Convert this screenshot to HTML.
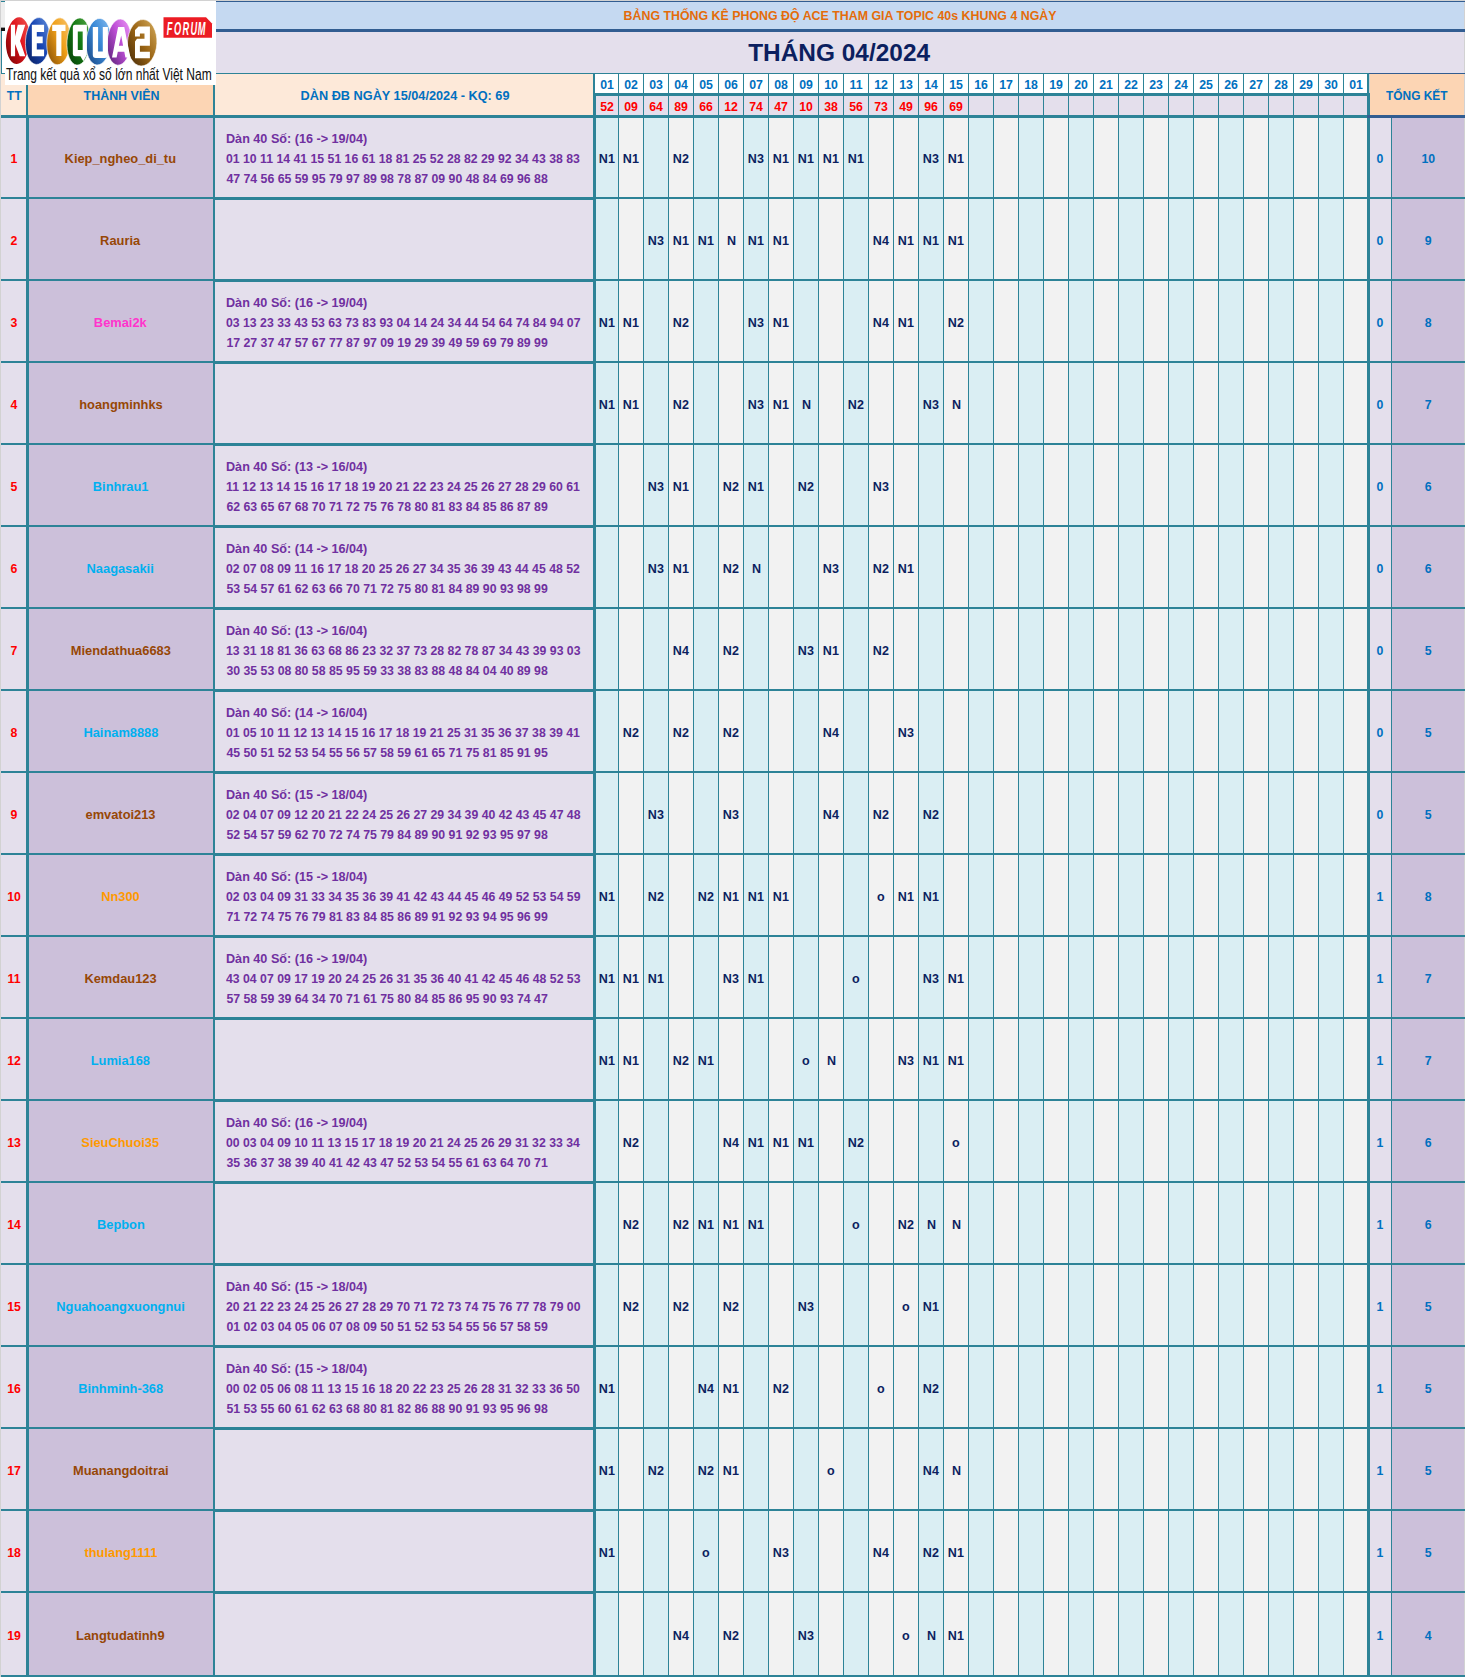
<!DOCTYPE html>
<html><head><meta charset="utf-8">
<style>
html,body{margin:0;padding:0;}
body{width:1465px;height:1677px;position:relative;overflow:hidden;background:#d2d2d2;font-family:"Liberation Sans",sans-serif;}
i{position:absolute;display:block;}
b{position:absolute;display:block;white-space:nowrap;font-weight:bold;}
</style></head><body>
<i style="left:0px;top:0px;width:1465px;height:1677px;background:#d2d2d2"></i>
<i style="left:216px;top:1px;width:1249px;height:1px;background:#325d91"></i>
<i style="left:216px;top:2px;width:1248px;height:27px;background:#c5d9f1"></i>
<i style="left:216px;top:29px;width:1249px;height:3px;background:#325d91"></i>
<i style="left:216px;top:32px;width:1248px;height:41px;background:#e4dfec"></i>
<i style="left:216px;top:73px;width:1153px;height:1px;background:#2d8397"></i>
<i style="left:1369px;top:73px;width:96px;height:1px;background:#325d91"></i>
<i style="left:1px;top:74px;width:25px;height:41px;background:#fde9d9"></i>
<i style="left:26px;top:74px;width:2px;height:41px;background:#2d8397"></i>
<i style="left:28px;top:74px;width:185px;height:41px;background:#fcd5b4"></i>
<i style="left:213px;top:74px;width:2px;height:41px;background:#2d8397"></i>
<i style="left:215px;top:74px;width:378px;height:41px;background:#fde9d9"></i>
<i style="left:593px;top:74px;width:2px;height:19px;background:#2d8397"></i>
<i style="left:593px;top:93px;width:3px;height:22px;background:#2d8397"></i>
<i style="left:595px;top:74px;width:23px;height:19px;background:#ffffff"></i>
<i style="left:596px;top:96px;width:22px;height:19px;background:#e4dfec"></i>
<i style="left:619px;top:74px;width:24px;height:19px;background:#ffffff"></i>
<i style="left:619px;top:96px;width:24px;height:19px;background:#e4dfec"></i>
<i style="left:644px;top:74px;width:24px;height:19px;background:#ffffff"></i>
<i style="left:644px;top:96px;width:24px;height:19px;background:#e4dfec"></i>
<i style="left:669px;top:74px;width:24px;height:19px;background:#ffffff"></i>
<i style="left:669px;top:96px;width:24px;height:19px;background:#e4dfec"></i>
<i style="left:694px;top:74px;width:24px;height:19px;background:#ffffff"></i>
<i style="left:694px;top:96px;width:24px;height:19px;background:#e4dfec"></i>
<i style="left:719px;top:74px;width:24px;height:19px;background:#ffffff"></i>
<i style="left:719px;top:96px;width:24px;height:19px;background:#e4dfec"></i>
<i style="left:744px;top:74px;width:24px;height:19px;background:#ffffff"></i>
<i style="left:744px;top:96px;width:24px;height:19px;background:#e4dfec"></i>
<i style="left:769px;top:74px;width:24px;height:19px;background:#ffffff"></i>
<i style="left:769px;top:96px;width:24px;height:19px;background:#e4dfec"></i>
<i style="left:794px;top:74px;width:24px;height:19px;background:#ffffff"></i>
<i style="left:794px;top:96px;width:24px;height:19px;background:#e4dfec"></i>
<i style="left:819px;top:74px;width:24px;height:19px;background:#ffffff"></i>
<i style="left:819px;top:96px;width:24px;height:19px;background:#e4dfec"></i>
<i style="left:844px;top:74px;width:24px;height:19px;background:#ffffff"></i>
<i style="left:844px;top:96px;width:24px;height:19px;background:#e4dfec"></i>
<i style="left:869px;top:74px;width:24px;height:19px;background:#ffffff"></i>
<i style="left:869px;top:96px;width:24px;height:19px;background:#e4dfec"></i>
<i style="left:894px;top:74px;width:24px;height:19px;background:#ffffff"></i>
<i style="left:894px;top:96px;width:24px;height:19px;background:#e4dfec"></i>
<i style="left:919px;top:74px;width:24px;height:19px;background:#ffffff"></i>
<i style="left:919px;top:96px;width:24px;height:19px;background:#e4dfec"></i>
<i style="left:944px;top:74px;width:24px;height:19px;background:#ffffff"></i>
<i style="left:944px;top:96px;width:24px;height:19px;background:#e4dfec"></i>
<i style="left:969px;top:74px;width:24px;height:19px;background:#ffffff"></i>
<i style="left:969px;top:96px;width:24px;height:19px;background:#e4dfec"></i>
<i style="left:994px;top:74px;width:24px;height:19px;background:#ffffff"></i>
<i style="left:994px;top:96px;width:24px;height:19px;background:#e4dfec"></i>
<i style="left:1019px;top:74px;width:24px;height:19px;background:#ffffff"></i>
<i style="left:1019px;top:96px;width:24px;height:19px;background:#e4dfec"></i>
<i style="left:1044px;top:74px;width:24px;height:19px;background:#ffffff"></i>
<i style="left:1044px;top:96px;width:24px;height:19px;background:#e4dfec"></i>
<i style="left:1069px;top:74px;width:24px;height:19px;background:#ffffff"></i>
<i style="left:1069px;top:96px;width:24px;height:19px;background:#e4dfec"></i>
<i style="left:1094px;top:74px;width:24px;height:19px;background:#ffffff"></i>
<i style="left:1094px;top:96px;width:24px;height:19px;background:#e4dfec"></i>
<i style="left:1119px;top:74px;width:24px;height:19px;background:#ffffff"></i>
<i style="left:1119px;top:96px;width:24px;height:19px;background:#e4dfec"></i>
<i style="left:1144px;top:74px;width:24px;height:19px;background:#ffffff"></i>
<i style="left:1144px;top:96px;width:24px;height:19px;background:#e4dfec"></i>
<i style="left:1169px;top:74px;width:24px;height:19px;background:#ffffff"></i>
<i style="left:1169px;top:96px;width:24px;height:19px;background:#e4dfec"></i>
<i style="left:1194px;top:74px;width:24px;height:19px;background:#ffffff"></i>
<i style="left:1194px;top:96px;width:24px;height:19px;background:#e4dfec"></i>
<i style="left:1219px;top:74px;width:24px;height:19px;background:#ffffff"></i>
<i style="left:1219px;top:96px;width:24px;height:19px;background:#e4dfec"></i>
<i style="left:1244px;top:74px;width:24px;height:19px;background:#ffffff"></i>
<i style="left:1244px;top:96px;width:24px;height:19px;background:#e4dfec"></i>
<i style="left:1269px;top:74px;width:24px;height:19px;background:#ffffff"></i>
<i style="left:1269px;top:96px;width:24px;height:19px;background:#e4dfec"></i>
<i style="left:1294px;top:74px;width:24px;height:19px;background:#ffffff"></i>
<i style="left:1294px;top:96px;width:24px;height:19px;background:#e4dfec"></i>
<i style="left:1319px;top:74px;width:24px;height:19px;background:#ffffff"></i>
<i style="left:1319px;top:96px;width:24px;height:19px;background:#e4dfec"></i>
<i style="left:1344px;top:74px;width:24px;height:19px;background:#ffffff"></i>
<i style="left:1344px;top:96px;width:24px;height:19px;background:#e4dfec"></i>
<i style="left:595px;top:93px;width:774px;height:3px;background:#2d8397"></i>
<i style="left:618px;top:74px;width:1px;height:44px;background:#2d8397"></i>
<i style="left:643px;top:74px;width:1px;height:44px;background:#2d8397"></i>
<i style="left:668px;top:74px;width:1px;height:44px;background:#2d8397"></i>
<i style="left:693px;top:74px;width:1px;height:44px;background:#2d8397"></i>
<i style="left:718px;top:74px;width:1px;height:44px;background:#2d8397"></i>
<i style="left:743px;top:74px;width:1px;height:44px;background:#2d8397"></i>
<i style="left:768px;top:74px;width:1px;height:44px;background:#2d8397"></i>
<i style="left:793px;top:74px;width:1px;height:44px;background:#2d8397"></i>
<i style="left:818px;top:74px;width:1px;height:44px;background:#2d8397"></i>
<i style="left:843px;top:74px;width:1px;height:44px;background:#2d8397"></i>
<i style="left:868px;top:74px;width:1px;height:44px;background:#2d8397"></i>
<i style="left:893px;top:74px;width:1px;height:44px;background:#2d8397"></i>
<i style="left:918px;top:74px;width:1px;height:44px;background:#2d8397"></i>
<i style="left:943px;top:74px;width:1px;height:44px;background:#2d8397"></i>
<i style="left:968px;top:74px;width:1px;height:44px;background:#2d8397"></i>
<i style="left:993px;top:74px;width:1px;height:44px;background:#2d8397"></i>
<i style="left:1018px;top:74px;width:1px;height:44px;background:#2d8397"></i>
<i style="left:1043px;top:74px;width:1px;height:44px;background:#2d8397"></i>
<i style="left:1068px;top:74px;width:1px;height:44px;background:#2d8397"></i>
<i style="left:1093px;top:74px;width:1px;height:44px;background:#2d8397"></i>
<i style="left:1118px;top:74px;width:1px;height:44px;background:#2d8397"></i>
<i style="left:1143px;top:74px;width:1px;height:44px;background:#2d8397"></i>
<i style="left:1168px;top:74px;width:1px;height:44px;background:#2d8397"></i>
<i style="left:1193px;top:74px;width:1px;height:44px;background:#2d8397"></i>
<i style="left:1218px;top:74px;width:1px;height:44px;background:#2d8397"></i>
<i style="left:1243px;top:74px;width:1px;height:44px;background:#2d8397"></i>
<i style="left:1268px;top:74px;width:1px;height:44px;background:#2d8397"></i>
<i style="left:1293px;top:74px;width:1px;height:44px;background:#2d8397"></i>
<i style="left:1318px;top:74px;width:1px;height:44px;background:#2d8397"></i>
<i style="left:1343px;top:74px;width:1px;height:44px;background:#2d8397"></i>
<i style="left:1367px;top:74px;width:2px;height:19px;background:#2d8397"></i>
<i style="left:1367px;top:93px;width:3px;height:22px;background:#2d8397"></i>
<i style="left:1370px;top:74px;width:94px;height:41px;background:#fcd5b4"></i>
<i style="left:1px;top:115px;width:1366px;height:3px;background:#2d8397"></i>
<i style="left:1367px;top:115px;width:98px;height:3px;background:#325d91"></i>
<i style="left:1px;top:118px;width:25px;height:1557px;background:#e4dfec"></i>
<i style="left:26px;top:118px;width:3px;height:1557px;background:#2d8397"></i>
<i style="left:29px;top:118px;width:184px;height:1557px;background:#ccc0da"></i>
<i style="left:213px;top:118px;width:2px;height:1557px;background:#2d8397"></i>
<i style="left:215px;top:118px;width:378px;height:1557px;background:#e4dfec"></i>
<i style="left:593px;top:118px;width:3px;height:1557px;background:#2d8397"></i>
<i style="left:596px;top:118px;width:22px;height:1557px;background:#daeef3"></i>
<i style="left:619px;top:118px;width:24px;height:1557px;background:#f2f2f2"></i>
<i style="left:644px;top:118px;width:24px;height:1557px;background:#daeef3"></i>
<i style="left:669px;top:118px;width:24px;height:1557px;background:#f2f2f2"></i>
<i style="left:694px;top:118px;width:24px;height:1557px;background:#daeef3"></i>
<i style="left:719px;top:118px;width:24px;height:1557px;background:#f2f2f2"></i>
<i style="left:744px;top:118px;width:24px;height:1557px;background:#daeef3"></i>
<i style="left:769px;top:118px;width:24px;height:1557px;background:#f2f2f2"></i>
<i style="left:794px;top:118px;width:24px;height:1557px;background:#daeef3"></i>
<i style="left:819px;top:118px;width:24px;height:1557px;background:#f2f2f2"></i>
<i style="left:844px;top:118px;width:24px;height:1557px;background:#daeef3"></i>
<i style="left:869px;top:118px;width:24px;height:1557px;background:#f2f2f2"></i>
<i style="left:894px;top:118px;width:24px;height:1557px;background:#f2f2f2"></i>
<i style="left:919px;top:118px;width:24px;height:1557px;background:#daeef3"></i>
<i style="left:944px;top:118px;width:24px;height:1557px;background:#f2f2f2"></i>
<i style="left:969px;top:118px;width:24px;height:1557px;background:#daeef3"></i>
<i style="left:994px;top:118px;width:24px;height:1557px;background:#f2f2f2"></i>
<i style="left:1019px;top:118px;width:24px;height:1557px;background:#daeef3"></i>
<i style="left:1044px;top:118px;width:24px;height:1557px;background:#f2f2f2"></i>
<i style="left:1069px;top:118px;width:24px;height:1557px;background:#daeef3"></i>
<i style="left:1094px;top:118px;width:24px;height:1557px;background:#f2f2f2"></i>
<i style="left:1119px;top:118px;width:24px;height:1557px;background:#daeef3"></i>
<i style="left:1144px;top:118px;width:24px;height:1557px;background:#f2f2f2"></i>
<i style="left:1169px;top:118px;width:24px;height:1557px;background:#daeef3"></i>
<i style="left:1194px;top:118px;width:24px;height:1557px;background:#f2f2f2"></i>
<i style="left:1219px;top:118px;width:24px;height:1557px;background:#daeef3"></i>
<i style="left:1244px;top:118px;width:24px;height:1557px;background:#f2f2f2"></i>
<i style="left:1269px;top:118px;width:24px;height:1557px;background:#daeef3"></i>
<i style="left:1294px;top:118px;width:24px;height:1557px;background:#f2f2f2"></i>
<i style="left:1319px;top:118px;width:24px;height:1557px;background:#daeef3"></i>
<i style="left:1344px;top:118px;width:24px;height:1557px;background:#f2f2f2"></i>
<i style="left:618px;top:118px;width:1px;height:1557px;background:#2d8397"></i>
<i style="left:643px;top:118px;width:1px;height:1557px;background:#2d8397"></i>
<i style="left:668px;top:118px;width:1px;height:1557px;background:#2d8397"></i>
<i style="left:693px;top:118px;width:1px;height:1557px;background:#2d8397"></i>
<i style="left:718px;top:118px;width:1px;height:1557px;background:#2d8397"></i>
<i style="left:743px;top:118px;width:1px;height:1557px;background:#2d8397"></i>
<i style="left:768px;top:118px;width:1px;height:1557px;background:#2d8397"></i>
<i style="left:793px;top:118px;width:1px;height:1557px;background:#2d8397"></i>
<i style="left:818px;top:118px;width:1px;height:1557px;background:#2d8397"></i>
<i style="left:843px;top:118px;width:1px;height:1557px;background:#2d8397"></i>
<i style="left:868px;top:118px;width:1px;height:1557px;background:#2d8397"></i>
<i style="left:893px;top:118px;width:1px;height:1557px;background:#2d8397"></i>
<i style="left:918px;top:118px;width:1px;height:1557px;background:#2d8397"></i>
<i style="left:943px;top:118px;width:1px;height:1557px;background:#2d8397"></i>
<i style="left:968px;top:118px;width:1px;height:1557px;background:#2d8397"></i>
<i style="left:993px;top:118px;width:1px;height:1557px;background:#2d8397"></i>
<i style="left:1018px;top:118px;width:1px;height:1557px;background:#2d8397"></i>
<i style="left:1043px;top:118px;width:1px;height:1557px;background:#2d8397"></i>
<i style="left:1068px;top:118px;width:1px;height:1557px;background:#2d8397"></i>
<i style="left:1093px;top:118px;width:1px;height:1557px;background:#2d8397"></i>
<i style="left:1118px;top:118px;width:1px;height:1557px;background:#2d8397"></i>
<i style="left:1143px;top:118px;width:1px;height:1557px;background:#2d8397"></i>
<i style="left:1168px;top:118px;width:1px;height:1557px;background:#2d8397"></i>
<i style="left:1193px;top:118px;width:1px;height:1557px;background:#2d8397"></i>
<i style="left:1218px;top:118px;width:1px;height:1557px;background:#2d8397"></i>
<i style="left:1243px;top:118px;width:1px;height:1557px;background:#2d8397"></i>
<i style="left:1268px;top:118px;width:1px;height:1557px;background:#2d8397"></i>
<i style="left:1293px;top:118px;width:1px;height:1557px;background:#2d8397"></i>
<i style="left:1318px;top:118px;width:1px;height:1557px;background:#2d8397"></i>
<i style="left:1343px;top:118px;width:1px;height:1557px;background:#2d8397"></i>
<i style="left:1367px;top:118px;width:3px;height:1557px;background:#2d8397"></i>
<i style="left:1370px;top:118px;width:21px;height:1557px;background:#e4dfec"></i>
<i style="left:1391px;top:118px;width:1px;height:1557px;background:#2d8397"></i>
<i style="left:1392px;top:118px;width:72px;height:1557px;background:#ccc0da"></i>
<i style="left:1px;top:197px;width:1464px;height:2px;background:#2d8397"></i>
<i style="left:215px;top:199px;width:381px;height:1px;background:#2d8397"></i>
<i style="left:1px;top:279px;width:1464px;height:2px;background:#2d8397"></i>
<i style="left:215px;top:281px;width:381px;height:1px;background:#2d8397"></i>
<i style="left:1px;top:361px;width:1464px;height:2px;background:#2d8397"></i>
<i style="left:215px;top:363px;width:381px;height:1px;background:#2d8397"></i>
<i style="left:1px;top:443px;width:1464px;height:2px;background:#2d8397"></i>
<i style="left:215px;top:445px;width:381px;height:1px;background:#2d8397"></i>
<i style="left:1px;top:525px;width:1464px;height:2px;background:#2d8397"></i>
<i style="left:215px;top:527px;width:381px;height:1px;background:#2d8397"></i>
<i style="left:1px;top:607px;width:1464px;height:2px;background:#2d8397"></i>
<i style="left:215px;top:609px;width:381px;height:1px;background:#2d8397"></i>
<i style="left:1px;top:689px;width:1464px;height:2px;background:#2d8397"></i>
<i style="left:215px;top:691px;width:381px;height:1px;background:#2d8397"></i>
<i style="left:1px;top:771px;width:1464px;height:2px;background:#2d8397"></i>
<i style="left:215px;top:773px;width:381px;height:1px;background:#2d8397"></i>
<i style="left:1px;top:853px;width:1464px;height:2px;background:#2d8397"></i>
<i style="left:215px;top:855px;width:381px;height:1px;background:#2d8397"></i>
<i style="left:1px;top:935px;width:1464px;height:2px;background:#2d8397"></i>
<i style="left:215px;top:937px;width:381px;height:1px;background:#2d8397"></i>
<i style="left:1px;top:1017px;width:1464px;height:2px;background:#2d8397"></i>
<i style="left:215px;top:1019px;width:381px;height:1px;background:#2d8397"></i>
<i style="left:1px;top:1099px;width:1464px;height:2px;background:#2d8397"></i>
<i style="left:215px;top:1101px;width:381px;height:1px;background:#2d8397"></i>
<i style="left:1px;top:1181px;width:1464px;height:2px;background:#2d8397"></i>
<i style="left:215px;top:1183px;width:381px;height:1px;background:#2d8397"></i>
<i style="left:1px;top:1263px;width:1464px;height:2px;background:#2d8397"></i>
<i style="left:215px;top:1265px;width:381px;height:1px;background:#2d8397"></i>
<i style="left:1px;top:1345px;width:1464px;height:2px;background:#2d8397"></i>
<i style="left:215px;top:1347px;width:381px;height:1px;background:#2d8397"></i>
<i style="left:1px;top:1427px;width:1464px;height:2px;background:#2d8397"></i>
<i style="left:215px;top:1429px;width:381px;height:1px;background:#2d8397"></i>
<i style="left:1px;top:1509px;width:1464px;height:2px;background:#2d8397"></i>
<i style="left:215px;top:1511px;width:381px;height:1px;background:#2d8397"></i>
<i style="left:1px;top:1591px;width:1464px;height:2px;background:#2d8397"></i>
<i style="left:215px;top:1593px;width:381px;height:1px;background:#2d8397"></i>
<i style="left:1px;top:1675px;width:1464px;height:2px;background:#2d8397"></i>
<i style="left:1px;top:1px;width:4px;height:1px;background:#2d8397"></i>
<i style="left:1px;top:2px;width:4px;height:25px;background:#eeeeee"></i>
<i style="left:1px;top:27px;width:4px;height:1px;background:#9a9a9a"></i>
<i style="left:1px;top:28px;width:4px;height:3px;background:#111111"></i>
<i style="left:1px;top:31px;width:1px;height:43px;background:#2d8397"></i>
<i style="left:2px;top:31px;width:3px;height:42px;background:#ffffff"></i>
<i style="left:1px;top:73px;width:4px;height:1px;background:#2d8397"></i>
<b style="left:624.46px;top:9.59px;font-size:12.3px;line-height:12.3px;color:#e46c0a;width:432.09px;text-align:center;transform:scaleX(1.0068);transform-origin:center 50%;">BẢNG THỐNG KÊ PHONG ĐỘ ACE THAM GIA TOPIC 40s KHUNG 4 NGÀY</b>
<b style="left:748.38px;top:40.51px;font-size:24.2px;line-height:24.2px;color:#0c1f5f;width:182.24px;text-align:center;transform:scaleX(1.0098);transform-origin:center 50%;">THÁNG 04/2024</b>
<b style="left:5.69px;top:89.59px;font-size:12.3px;line-height:12.3px;color:#0070c0;width:17.03px;text-align:center;">TT</b>
<b style="left:82.61px;top:89.59px;font-size:12.3px;line-height:12.3px;color:#0070c0;width:77.17px;text-align:center;transform:scaleX(1.0110);transform-origin:center 50%;">THÀNH VIÊN</b>
<b style="left:303.34px;top:89.59px;font-size:12.3px;line-height:12.3px;color:#0070c0;width:204.12px;text-align:center;transform:scaleX(1.0340);transform-origin:center 50%;">DÀN ĐB NGÀY 15/04/2024 - KQ: 69</b>
<b style="left:1384.23px;top:89.59px;font-size:12.3px;line-height:12.3px;color:#0070c0;width:65.55px;text-align:center;transform:scaleX(0.9678);transform-origin:center 50%;">TỔNG KẾT</b>
<b style="left:599.16px;top:78.59px;font-size:12.3px;line-height:12.3px;color:#0070c0;width:15.68px;text-align:center;">01</b>
<b style="left:623.16px;top:78.59px;font-size:12.3px;line-height:12.3px;color:#0070c0;width:15.68px;text-align:center;">02</b>
<b style="left:648.16px;top:78.59px;font-size:12.3px;line-height:12.3px;color:#0070c0;width:15.68px;text-align:center;">03</b>
<b style="left:673.16px;top:78.59px;font-size:12.3px;line-height:12.3px;color:#0070c0;width:15.68px;text-align:center;">04</b>
<b style="left:698.16px;top:78.59px;font-size:12.3px;line-height:12.3px;color:#0070c0;width:15.68px;text-align:center;">05</b>
<b style="left:723.16px;top:78.59px;font-size:12.3px;line-height:12.3px;color:#0070c0;width:15.68px;text-align:center;">06</b>
<b style="left:748.16px;top:78.59px;font-size:12.3px;line-height:12.3px;color:#0070c0;width:15.68px;text-align:center;">07</b>
<b style="left:773.16px;top:78.59px;font-size:12.3px;line-height:12.3px;color:#0070c0;width:15.68px;text-align:center;">08</b>
<b style="left:798.16px;top:78.59px;font-size:12.3px;line-height:12.3px;color:#0070c0;width:15.68px;text-align:center;">09</b>
<b style="left:823.16px;top:78.59px;font-size:12.3px;line-height:12.3px;color:#0070c0;width:15.68px;text-align:center;">10</b>
<b style="left:848.50px;top:78.59px;font-size:12.3px;line-height:12.3px;color:#0070c0;width:15.00px;text-align:center;">11</b>
<b style="left:873.16px;top:78.59px;font-size:12.3px;line-height:12.3px;color:#0070c0;width:15.68px;text-align:center;">12</b>
<b style="left:898.16px;top:78.59px;font-size:12.3px;line-height:12.3px;color:#0070c0;width:15.68px;text-align:center;">13</b>
<b style="left:923.16px;top:78.59px;font-size:12.3px;line-height:12.3px;color:#0070c0;width:15.68px;text-align:center;">14</b>
<b style="left:948.16px;top:78.59px;font-size:12.3px;line-height:12.3px;color:#0070c0;width:15.68px;text-align:center;">15</b>
<b style="left:973.16px;top:78.59px;font-size:12.3px;line-height:12.3px;color:#0070c0;width:15.68px;text-align:center;">16</b>
<b style="left:998.16px;top:78.59px;font-size:12.3px;line-height:12.3px;color:#0070c0;width:15.68px;text-align:center;">17</b>
<b style="left:1023.16px;top:78.59px;font-size:12.3px;line-height:12.3px;color:#0070c0;width:15.68px;text-align:center;">18</b>
<b style="left:1048.16px;top:78.59px;font-size:12.3px;line-height:12.3px;color:#0070c0;width:15.68px;text-align:center;">19</b>
<b style="left:1073.16px;top:78.59px;font-size:12.3px;line-height:12.3px;color:#0070c0;width:15.68px;text-align:center;">20</b>
<b style="left:1098.16px;top:78.59px;font-size:12.3px;line-height:12.3px;color:#0070c0;width:15.68px;text-align:center;">21</b>
<b style="left:1123.16px;top:78.59px;font-size:12.3px;line-height:12.3px;color:#0070c0;width:15.68px;text-align:center;">22</b>
<b style="left:1148.16px;top:78.59px;font-size:12.3px;line-height:12.3px;color:#0070c0;width:15.68px;text-align:center;">23</b>
<b style="left:1173.16px;top:78.59px;font-size:12.3px;line-height:12.3px;color:#0070c0;width:15.68px;text-align:center;">24</b>
<b style="left:1198.16px;top:78.59px;font-size:12.3px;line-height:12.3px;color:#0070c0;width:15.68px;text-align:center;">25</b>
<b style="left:1223.16px;top:78.59px;font-size:12.3px;line-height:12.3px;color:#0070c0;width:15.68px;text-align:center;">26</b>
<b style="left:1248.16px;top:78.59px;font-size:12.3px;line-height:12.3px;color:#0070c0;width:15.68px;text-align:center;">27</b>
<b style="left:1273.16px;top:78.59px;font-size:12.3px;line-height:12.3px;color:#0070c0;width:15.68px;text-align:center;">28</b>
<b style="left:1298.16px;top:78.59px;font-size:12.3px;line-height:12.3px;color:#0070c0;width:15.68px;text-align:center;">29</b>
<b style="left:1323.16px;top:78.59px;font-size:12.3px;line-height:12.3px;color:#0070c0;width:15.68px;text-align:center;">30</b>
<b style="left:1348.16px;top:78.59px;font-size:12.3px;line-height:12.3px;color:#0070c0;width:15.68px;text-align:center;">01</b>
<b style="left:599.16px;top:100.59px;font-size:12.3px;line-height:12.3px;color:#ff0000;width:15.68px;text-align:center;">52</b>
<b style="left:623.16px;top:100.59px;font-size:12.3px;line-height:12.3px;color:#ff0000;width:15.68px;text-align:center;">09</b>
<b style="left:648.16px;top:100.59px;font-size:12.3px;line-height:12.3px;color:#ff0000;width:15.68px;text-align:center;">64</b>
<b style="left:673.16px;top:100.59px;font-size:12.3px;line-height:12.3px;color:#ff0000;width:15.68px;text-align:center;">89</b>
<b style="left:698.16px;top:100.59px;font-size:12.3px;line-height:12.3px;color:#ff0000;width:15.68px;text-align:center;">66</b>
<b style="left:723.16px;top:100.59px;font-size:12.3px;line-height:12.3px;color:#ff0000;width:15.68px;text-align:center;">12</b>
<b style="left:748.16px;top:100.59px;font-size:12.3px;line-height:12.3px;color:#ff0000;width:15.68px;text-align:center;">74</b>
<b style="left:773.16px;top:100.59px;font-size:12.3px;line-height:12.3px;color:#ff0000;width:15.68px;text-align:center;">47</b>
<b style="left:798.16px;top:100.59px;font-size:12.3px;line-height:12.3px;color:#ff0000;width:15.68px;text-align:center;">10</b>
<b style="left:823.16px;top:100.59px;font-size:12.3px;line-height:12.3px;color:#ff0000;width:15.68px;text-align:center;">38</b>
<b style="left:848.16px;top:100.59px;font-size:12.3px;line-height:12.3px;color:#ff0000;width:15.68px;text-align:center;">56</b>
<b style="left:873.16px;top:100.59px;font-size:12.3px;line-height:12.3px;color:#ff0000;width:15.68px;text-align:center;">73</b>
<b style="left:898.16px;top:100.59px;font-size:12.3px;line-height:12.3px;color:#ff0000;width:15.68px;text-align:center;">49</b>
<b style="left:923.16px;top:100.59px;font-size:12.3px;line-height:12.3px;color:#ff0000;width:15.68px;text-align:center;">96</b>
<b style="left:948.16px;top:100.59px;font-size:12.3px;line-height:12.3px;color:#ff0000;width:15.68px;text-align:center;">69</b>
<b style="left:9.58px;top:152.59px;font-size:12.3px;line-height:12.3px;color:#ff0000;width:8.84px;text-align:center;">1</b>
<b style="left:66.19px;top:152.59px;font-size:12.3px;line-height:12.3px;color:#974706;width:108.61px;text-align:center;transform:scaleX(1.0450);transform-origin:center 50%;">Kiep_ngheo_di_tu</b>
<b style="left:226.40px;top:132.59px;font-size:12.3px;line-height:12.3px;color:#7030a0;width:139.75px;transform:scaleX(1.0260);transform-origin:left 50%;">Dàn 40 Số: (16 -&gt; 19/04)</b>
<b style="left:226.40px;top:152.59px;font-size:12.3px;line-height:12.3px;color:#7030a0;width:356.98px;transform:scaleX(0.9970);transform-origin:left 50%;">01 10 11 14 41 15 51 16 61 18 81 25 52 28 82 29 92 34 43 38 83</b>
<b style="left:226.40px;top:172.59px;font-size:12.3px;line-height:12.3px;color:#7030a0;width:323.46px;">47 74 56 65 59 95 79 97 89 98 78 87 09 90 48 84 69 96 88</b>
<b style="left:598.14px;top:152.59px;font-size:12.3px;line-height:12.3px;color:#0c1f5f;width:17.72px;text-align:center;transform:scaleX(1.0200);transform-origin:center 50%;">N1</b>
<b style="left:622.14px;top:152.59px;font-size:12.3px;line-height:12.3px;color:#0c1f5f;width:17.72px;text-align:center;transform:scaleX(1.0200);transform-origin:center 50%;">N1</b>
<b style="left:672.14px;top:152.59px;font-size:12.3px;line-height:12.3px;color:#0c1f5f;width:17.72px;text-align:center;transform:scaleX(1.0200);transform-origin:center 50%;">N2</b>
<b style="left:747.14px;top:152.59px;font-size:12.3px;line-height:12.3px;color:#0c1f5f;width:17.72px;text-align:center;transform:scaleX(1.0200);transform-origin:center 50%;">N3</b>
<b style="left:772.14px;top:152.59px;font-size:12.3px;line-height:12.3px;color:#0c1f5f;width:17.72px;text-align:center;transform:scaleX(1.0200);transform-origin:center 50%;">N1</b>
<b style="left:797.14px;top:152.59px;font-size:12.3px;line-height:12.3px;color:#0c1f5f;width:17.72px;text-align:center;transform:scaleX(1.0200);transform-origin:center 50%;">N1</b>
<b style="left:822.14px;top:152.59px;font-size:12.3px;line-height:12.3px;color:#0c1f5f;width:17.72px;text-align:center;transform:scaleX(1.0200);transform-origin:center 50%;">N1</b>
<b style="left:847.14px;top:152.59px;font-size:12.3px;line-height:12.3px;color:#0c1f5f;width:17.72px;text-align:center;transform:scaleX(1.0200);transform-origin:center 50%;">N1</b>
<b style="left:922.14px;top:152.59px;font-size:12.3px;line-height:12.3px;color:#0c1f5f;width:17.72px;text-align:center;transform:scaleX(1.0200);transform-origin:center 50%;">N3</b>
<b style="left:947.14px;top:152.59px;font-size:12.3px;line-height:12.3px;color:#0c1f5f;width:17.72px;text-align:center;transform:scaleX(1.0200);transform-origin:center 50%;">N1</b>
<b style="left:1375.58px;top:152.59px;font-size:12.3px;line-height:12.3px;color:#0070c0;width:8.84px;text-align:center;">0</b>
<b style="left:1420.46px;top:152.59px;font-size:12.3px;line-height:12.3px;color:#0070c0;width:15.68px;text-align:center;">10</b>
<b style="left:9.58px;top:234.59px;font-size:12.3px;line-height:12.3px;color:#ff0000;width:8.84px;text-align:center;">2</b>
<b style="left:100.36px;top:234.59px;font-size:12.3px;line-height:12.3px;color:#974706;width:40.28px;text-align:center;transform:scaleX(1.0450);transform-origin:center 50%;">Rauria</b>
<b style="left:647.14px;top:234.59px;font-size:12.3px;line-height:12.3px;color:#0c1f5f;width:17.72px;text-align:center;transform:scaleX(1.0200);transform-origin:center 50%;">N3</b>
<b style="left:672.14px;top:234.59px;font-size:12.3px;line-height:12.3px;color:#0c1f5f;width:17.72px;text-align:center;transform:scaleX(1.0200);transform-origin:center 50%;">N1</b>
<b style="left:697.14px;top:234.59px;font-size:12.3px;line-height:12.3px;color:#0c1f5f;width:17.72px;text-align:center;transform:scaleX(1.0200);transform-origin:center 50%;">N1</b>
<b style="left:725.56px;top:234.59px;font-size:12.3px;line-height:12.3px;color:#0c1f5f;width:10.88px;text-align:center;transform:scaleX(1.0200);transform-origin:center 50%;">N</b>
<b style="left:747.14px;top:234.59px;font-size:12.3px;line-height:12.3px;color:#0c1f5f;width:17.72px;text-align:center;transform:scaleX(1.0200);transform-origin:center 50%;">N1</b>
<b style="left:772.14px;top:234.59px;font-size:12.3px;line-height:12.3px;color:#0c1f5f;width:17.72px;text-align:center;transform:scaleX(1.0200);transform-origin:center 50%;">N1</b>
<b style="left:872.14px;top:234.59px;font-size:12.3px;line-height:12.3px;color:#0c1f5f;width:17.72px;text-align:center;transform:scaleX(1.0200);transform-origin:center 50%;">N4</b>
<b style="left:897.14px;top:234.59px;font-size:12.3px;line-height:12.3px;color:#0c1f5f;width:17.72px;text-align:center;transform:scaleX(1.0200);transform-origin:center 50%;">N1</b>
<b style="left:922.14px;top:234.59px;font-size:12.3px;line-height:12.3px;color:#0c1f5f;width:17.72px;text-align:center;transform:scaleX(1.0200);transform-origin:center 50%;">N1</b>
<b style="left:947.14px;top:234.59px;font-size:12.3px;line-height:12.3px;color:#0c1f5f;width:17.72px;text-align:center;transform:scaleX(1.0200);transform-origin:center 50%;">N1</b>
<b style="left:1375.58px;top:234.59px;font-size:12.3px;line-height:12.3px;color:#0070c0;width:8.84px;text-align:center;">0</b>
<b style="left:1423.88px;top:234.59px;font-size:12.3px;line-height:12.3px;color:#0070c0;width:8.84px;text-align:center;">9</b>
<b style="left:9.58px;top:316.59px;font-size:12.3px;line-height:12.3px;color:#ff0000;width:8.84px;text-align:center;">3</b>
<b style="left:94.20px;top:316.59px;font-size:12.3px;line-height:12.3px;color:#ff33cc;width:52.60px;text-align:center;transform:scaleX(1.0450);transform-origin:center 50%;">Bemai2k</b>
<b style="left:226.40px;top:296.59px;font-size:12.3px;line-height:12.3px;color:#7030a0;width:139.75px;transform:scaleX(1.0260);transform-origin:left 50%;">Dàn 40 Số: (16 -&gt; 19/04)</b>
<b style="left:226.40px;top:316.59px;font-size:12.3px;line-height:12.3px;color:#7030a0;width:357.66px;transform:scaleX(0.9970);transform-origin:left 50%;">03 13 23 33 43 53 63 73 83 93 04 14 24 34 44 54 64 74 84 94 07</b>
<b style="left:226.40px;top:336.59px;font-size:12.3px;line-height:12.3px;color:#7030a0;width:323.46px;">17 27 37 47 57 67 77 87 97 09 19 29 39 49 59 69 79 89 99</b>
<b style="left:598.14px;top:316.59px;font-size:12.3px;line-height:12.3px;color:#0c1f5f;width:17.72px;text-align:center;transform:scaleX(1.0200);transform-origin:center 50%;">N1</b>
<b style="left:622.14px;top:316.59px;font-size:12.3px;line-height:12.3px;color:#0c1f5f;width:17.72px;text-align:center;transform:scaleX(1.0200);transform-origin:center 50%;">N1</b>
<b style="left:672.14px;top:316.59px;font-size:12.3px;line-height:12.3px;color:#0c1f5f;width:17.72px;text-align:center;transform:scaleX(1.0200);transform-origin:center 50%;">N2</b>
<b style="left:747.14px;top:316.59px;font-size:12.3px;line-height:12.3px;color:#0c1f5f;width:17.72px;text-align:center;transform:scaleX(1.0200);transform-origin:center 50%;">N3</b>
<b style="left:772.14px;top:316.59px;font-size:12.3px;line-height:12.3px;color:#0c1f5f;width:17.72px;text-align:center;transform:scaleX(1.0200);transform-origin:center 50%;">N1</b>
<b style="left:872.14px;top:316.59px;font-size:12.3px;line-height:12.3px;color:#0c1f5f;width:17.72px;text-align:center;transform:scaleX(1.0200);transform-origin:center 50%;">N4</b>
<b style="left:897.14px;top:316.59px;font-size:12.3px;line-height:12.3px;color:#0c1f5f;width:17.72px;text-align:center;transform:scaleX(1.0200);transform-origin:center 50%;">N1</b>
<b style="left:947.14px;top:316.59px;font-size:12.3px;line-height:12.3px;color:#0c1f5f;width:17.72px;text-align:center;transform:scaleX(1.0200);transform-origin:center 50%;">N2</b>
<b style="left:1375.58px;top:316.59px;font-size:12.3px;line-height:12.3px;color:#0070c0;width:8.84px;text-align:center;">0</b>
<b style="left:1423.88px;top:316.59px;font-size:12.3px;line-height:12.3px;color:#0070c0;width:8.84px;text-align:center;">8</b>
<b style="left:9.58px;top:398.59px;font-size:12.3px;line-height:12.3px;color:#ff0000;width:8.84px;text-align:center;">4</b>
<b style="left:79.52px;top:398.59px;font-size:12.3px;line-height:12.3px;color:#974706;width:81.96px;text-align:center;transform:scaleX(1.0450);transform-origin:center 50%;">hoangminhks</b>
<b style="left:598.14px;top:398.59px;font-size:12.3px;line-height:12.3px;color:#0c1f5f;width:17.72px;text-align:center;transform:scaleX(1.0200);transform-origin:center 50%;">N1</b>
<b style="left:622.14px;top:398.59px;font-size:12.3px;line-height:12.3px;color:#0c1f5f;width:17.72px;text-align:center;transform:scaleX(1.0200);transform-origin:center 50%;">N1</b>
<b style="left:672.14px;top:398.59px;font-size:12.3px;line-height:12.3px;color:#0c1f5f;width:17.72px;text-align:center;transform:scaleX(1.0200);transform-origin:center 50%;">N2</b>
<b style="left:747.14px;top:398.59px;font-size:12.3px;line-height:12.3px;color:#0c1f5f;width:17.72px;text-align:center;transform:scaleX(1.0200);transform-origin:center 50%;">N3</b>
<b style="left:772.14px;top:398.59px;font-size:12.3px;line-height:12.3px;color:#0c1f5f;width:17.72px;text-align:center;transform:scaleX(1.0200);transform-origin:center 50%;">N1</b>
<b style="left:800.56px;top:398.59px;font-size:12.3px;line-height:12.3px;color:#0c1f5f;width:10.88px;text-align:center;transform:scaleX(1.0200);transform-origin:center 50%;">N</b>
<b style="left:847.14px;top:398.59px;font-size:12.3px;line-height:12.3px;color:#0c1f5f;width:17.72px;text-align:center;transform:scaleX(1.0200);transform-origin:center 50%;">N2</b>
<b style="left:922.14px;top:398.59px;font-size:12.3px;line-height:12.3px;color:#0c1f5f;width:17.72px;text-align:center;transform:scaleX(1.0200);transform-origin:center 50%;">N3</b>
<b style="left:950.56px;top:398.59px;font-size:12.3px;line-height:12.3px;color:#0c1f5f;width:10.88px;text-align:center;transform:scaleX(1.0200);transform-origin:center 50%;">N</b>
<b style="left:1375.58px;top:398.59px;font-size:12.3px;line-height:12.3px;color:#0070c0;width:8.84px;text-align:center;">0</b>
<b style="left:1423.88px;top:398.59px;font-size:12.3px;line-height:12.3px;color:#0070c0;width:8.84px;text-align:center;">7</b>
<b style="left:9.58px;top:480.59px;font-size:12.3px;line-height:12.3px;color:#ff0000;width:8.84px;text-align:center;">5</b>
<b style="left:92.85px;top:480.59px;font-size:12.3px;line-height:12.3px;color:#00b0f0;width:55.31px;text-align:center;transform:scaleX(1.0450);transform-origin:center 50%;">Binhrau1</b>
<b style="left:226.40px;top:460.59px;font-size:12.3px;line-height:12.3px;color:#7030a0;width:139.75px;transform:scaleX(1.0260);transform-origin:left 50%;">Dàn 40 Số: (13 -&gt; 16/04)</b>
<b style="left:226.40px;top:480.59px;font-size:12.3px;line-height:12.3px;color:#7030a0;width:356.98px;transform:scaleX(0.9970);transform-origin:left 50%;">11 12 13 14 15 16 17 18 19 20 21 22 23 24 25 26 27 28 29 60 61</b>
<b style="left:226.40px;top:500.59px;font-size:12.3px;line-height:12.3px;color:#7030a0;width:323.46px;">62 63 65 67 68 70 71 72 75 76 78 80 81 83 84 85 86 87 89</b>
<b style="left:647.14px;top:480.59px;font-size:12.3px;line-height:12.3px;color:#0c1f5f;width:17.72px;text-align:center;transform:scaleX(1.0200);transform-origin:center 50%;">N3</b>
<b style="left:672.14px;top:480.59px;font-size:12.3px;line-height:12.3px;color:#0c1f5f;width:17.72px;text-align:center;transform:scaleX(1.0200);transform-origin:center 50%;">N1</b>
<b style="left:722.14px;top:480.59px;font-size:12.3px;line-height:12.3px;color:#0c1f5f;width:17.72px;text-align:center;transform:scaleX(1.0200);transform-origin:center 50%;">N2</b>
<b style="left:747.14px;top:480.59px;font-size:12.3px;line-height:12.3px;color:#0c1f5f;width:17.72px;text-align:center;transform:scaleX(1.0200);transform-origin:center 50%;">N1</b>
<b style="left:797.14px;top:480.59px;font-size:12.3px;line-height:12.3px;color:#0c1f5f;width:17.72px;text-align:center;transform:scaleX(1.0200);transform-origin:center 50%;">N2</b>
<b style="left:872.14px;top:480.59px;font-size:12.3px;line-height:12.3px;color:#0c1f5f;width:17.72px;text-align:center;transform:scaleX(1.0200);transform-origin:center 50%;">N3</b>
<b style="left:1375.58px;top:480.59px;font-size:12.3px;line-height:12.3px;color:#0070c0;width:8.84px;text-align:center;">0</b>
<b style="left:1423.88px;top:480.59px;font-size:12.3px;line-height:12.3px;color:#0070c0;width:8.84px;text-align:center;">6</b>
<b style="left:9.58px;top:562.59px;font-size:12.3px;line-height:12.3px;color:#ff0000;width:8.84px;text-align:center;">6</b>
<b style="left:87.36px;top:562.59px;font-size:12.3px;line-height:12.3px;color:#00b0f0;width:66.28px;text-align:center;transform:scaleX(1.0450);transform-origin:center 50%;">Naagasakii</b>
<b style="left:226.40px;top:542.59px;font-size:12.3px;line-height:12.3px;color:#7030a0;width:139.75px;transform:scaleX(1.0260);transform-origin:left 50%;">Dàn 40 Số: (14 -&gt; 16/04)</b>
<b style="left:226.40px;top:562.59px;font-size:12.3px;line-height:12.3px;color:#7030a0;width:356.98px;transform:scaleX(0.9970);transform-origin:left 50%;">02 07 08 09 11 16 17 18 20 25 26 27 34 35 36 39 43 44 45 48 52</b>
<b style="left:226.40px;top:582.59px;font-size:12.3px;line-height:12.3px;color:#7030a0;width:323.46px;">53 54 57 61 62 63 66 70 71 72 75 80 81 84 89 90 93 98 99</b>
<b style="left:647.14px;top:562.59px;font-size:12.3px;line-height:12.3px;color:#0c1f5f;width:17.72px;text-align:center;transform:scaleX(1.0200);transform-origin:center 50%;">N3</b>
<b style="left:672.14px;top:562.59px;font-size:12.3px;line-height:12.3px;color:#0c1f5f;width:17.72px;text-align:center;transform:scaleX(1.0200);transform-origin:center 50%;">N1</b>
<b style="left:722.14px;top:562.59px;font-size:12.3px;line-height:12.3px;color:#0c1f5f;width:17.72px;text-align:center;transform:scaleX(1.0200);transform-origin:center 50%;">N2</b>
<b style="left:750.56px;top:562.59px;font-size:12.3px;line-height:12.3px;color:#0c1f5f;width:10.88px;text-align:center;transform:scaleX(1.0200);transform-origin:center 50%;">N</b>
<b style="left:822.14px;top:562.59px;font-size:12.3px;line-height:12.3px;color:#0c1f5f;width:17.72px;text-align:center;transform:scaleX(1.0200);transform-origin:center 50%;">N3</b>
<b style="left:872.14px;top:562.59px;font-size:12.3px;line-height:12.3px;color:#0c1f5f;width:17.72px;text-align:center;transform:scaleX(1.0200);transform-origin:center 50%;">N2</b>
<b style="left:897.14px;top:562.59px;font-size:12.3px;line-height:12.3px;color:#0c1f5f;width:17.72px;text-align:center;transform:scaleX(1.0200);transform-origin:center 50%;">N1</b>
<b style="left:1375.58px;top:562.59px;font-size:12.3px;line-height:12.3px;color:#0070c0;width:8.84px;text-align:center;">0</b>
<b style="left:1423.88px;top:562.59px;font-size:12.3px;line-height:12.3px;color:#0070c0;width:8.84px;text-align:center;">6</b>
<b style="left:9.58px;top:644.59px;font-size:12.3px;line-height:12.3px;color:#ff0000;width:8.84px;text-align:center;">7</b>
<b style="left:71.65px;top:644.59px;font-size:12.3px;line-height:12.3px;color:#974706;width:97.70px;text-align:center;transform:scaleX(1.0450);transform-origin:center 50%;">Miendathua6683</b>
<b style="left:226.40px;top:624.59px;font-size:12.3px;line-height:12.3px;color:#7030a0;width:139.75px;transform:scaleX(1.0260);transform-origin:left 50%;">Dàn 40 Số: (13 -&gt; 16/04)</b>
<b style="left:226.40px;top:644.59px;font-size:12.3px;line-height:12.3px;color:#7030a0;width:357.66px;transform:scaleX(0.9970);transform-origin:left 50%;">13 31 18 81 36 63 68 86 23 32 37 73 28 82 78 87 34 43 39 93 03</b>
<b style="left:226.40px;top:664.59px;font-size:12.3px;line-height:12.3px;color:#7030a0;width:323.46px;">30 35 53 08 80 58 85 95 59 33 38 83 88 48 84 04 40 89 98</b>
<b style="left:672.14px;top:644.59px;font-size:12.3px;line-height:12.3px;color:#0c1f5f;width:17.72px;text-align:center;transform:scaleX(1.0200);transform-origin:center 50%;">N4</b>
<b style="left:722.14px;top:644.59px;font-size:12.3px;line-height:12.3px;color:#0c1f5f;width:17.72px;text-align:center;transform:scaleX(1.0200);transform-origin:center 50%;">N2</b>
<b style="left:797.14px;top:644.59px;font-size:12.3px;line-height:12.3px;color:#0c1f5f;width:17.72px;text-align:center;transform:scaleX(1.0200);transform-origin:center 50%;">N3</b>
<b style="left:822.14px;top:644.59px;font-size:12.3px;line-height:12.3px;color:#0c1f5f;width:17.72px;text-align:center;transform:scaleX(1.0200);transform-origin:center 50%;">N1</b>
<b style="left:872.14px;top:644.59px;font-size:12.3px;line-height:12.3px;color:#0c1f5f;width:17.72px;text-align:center;transform:scaleX(1.0200);transform-origin:center 50%;">N2</b>
<b style="left:1375.58px;top:644.59px;font-size:12.3px;line-height:12.3px;color:#0070c0;width:8.84px;text-align:center;">0</b>
<b style="left:1423.88px;top:644.59px;font-size:12.3px;line-height:12.3px;color:#0070c0;width:8.84px;text-align:center;">5</b>
<b style="left:9.58px;top:726.59px;font-size:12.3px;line-height:12.3px;color:#ff0000;width:8.84px;text-align:center;">8</b>
<b style="left:83.60px;top:726.59px;font-size:12.3px;line-height:12.3px;color:#00b0f0;width:73.80px;text-align:center;transform:scaleX(1.0450);transform-origin:center 50%;">Hainam8888</b>
<b style="left:226.40px;top:706.59px;font-size:12.3px;line-height:12.3px;color:#7030a0;width:139.75px;transform:scaleX(1.0260);transform-origin:left 50%;">Dàn 40 Số: (14 -&gt; 16/04)</b>
<b style="left:226.40px;top:726.59px;font-size:12.3px;line-height:12.3px;color:#7030a0;width:356.98px;transform:scaleX(0.9970);transform-origin:left 50%;">01 05 10 11 12 13 14 15 16 17 18 19 21 25 31 35 36 37 38 39 41</b>
<b style="left:226.40px;top:746.59px;font-size:12.3px;line-height:12.3px;color:#7030a0;width:323.46px;">45 50 51 52 53 54 55 56 57 58 59 61 65 71 75 81 85 91 95</b>
<b style="left:622.14px;top:726.59px;font-size:12.3px;line-height:12.3px;color:#0c1f5f;width:17.72px;text-align:center;transform:scaleX(1.0200);transform-origin:center 50%;">N2</b>
<b style="left:672.14px;top:726.59px;font-size:12.3px;line-height:12.3px;color:#0c1f5f;width:17.72px;text-align:center;transform:scaleX(1.0200);transform-origin:center 50%;">N2</b>
<b style="left:722.14px;top:726.59px;font-size:12.3px;line-height:12.3px;color:#0c1f5f;width:17.72px;text-align:center;transform:scaleX(1.0200);transform-origin:center 50%;">N2</b>
<b style="left:822.14px;top:726.59px;font-size:12.3px;line-height:12.3px;color:#0c1f5f;width:17.72px;text-align:center;transform:scaleX(1.0200);transform-origin:center 50%;">N4</b>
<b style="left:897.14px;top:726.59px;font-size:12.3px;line-height:12.3px;color:#0c1f5f;width:17.72px;text-align:center;transform:scaleX(1.0200);transform-origin:center 50%;">N3</b>
<b style="left:1375.58px;top:726.59px;font-size:12.3px;line-height:12.3px;color:#0070c0;width:8.84px;text-align:center;">0</b>
<b style="left:1423.88px;top:726.59px;font-size:12.3px;line-height:12.3px;color:#0070c0;width:8.84px;text-align:center;">5</b>
<b style="left:9.58px;top:808.59px;font-size:12.3px;line-height:12.3px;color:#ff0000;width:8.84px;text-align:center;">9</b>
<b style="left:86.00px;top:808.59px;font-size:12.3px;line-height:12.3px;color:#974706;width:69.01px;text-align:center;transform:scaleX(1.0450);transform-origin:center 50%;">emvatoi213</b>
<b style="left:226.40px;top:788.59px;font-size:12.3px;line-height:12.3px;color:#7030a0;width:139.75px;transform:scaleX(1.0260);transform-origin:left 50%;">Dàn 40 Số: (15 -&gt; 18/04)</b>
<b style="left:226.40px;top:808.59px;font-size:12.3px;line-height:12.3px;color:#7030a0;width:357.66px;transform:scaleX(0.9970);transform-origin:left 50%;">02 04 07 09 12 20 21 22 24 25 26 27 29 34 39 40 42 43 45 47 48</b>
<b style="left:226.40px;top:828.59px;font-size:12.3px;line-height:12.3px;color:#7030a0;width:323.46px;">52 54 57 59 62 70 72 74 75 79 84 89 90 91 92 93 95 97 98</b>
<b style="left:647.14px;top:808.59px;font-size:12.3px;line-height:12.3px;color:#0c1f5f;width:17.72px;text-align:center;transform:scaleX(1.0200);transform-origin:center 50%;">N3</b>
<b style="left:722.14px;top:808.59px;font-size:12.3px;line-height:12.3px;color:#0c1f5f;width:17.72px;text-align:center;transform:scaleX(1.0200);transform-origin:center 50%;">N3</b>
<b style="left:822.14px;top:808.59px;font-size:12.3px;line-height:12.3px;color:#0c1f5f;width:17.72px;text-align:center;transform:scaleX(1.0200);transform-origin:center 50%;">N4</b>
<b style="left:872.14px;top:808.59px;font-size:12.3px;line-height:12.3px;color:#0c1f5f;width:17.72px;text-align:center;transform:scaleX(1.0200);transform-origin:center 50%;">N2</b>
<b style="left:922.14px;top:808.59px;font-size:12.3px;line-height:12.3px;color:#0c1f5f;width:17.72px;text-align:center;transform:scaleX(1.0200);transform-origin:center 50%;">N2</b>
<b style="left:1375.58px;top:808.59px;font-size:12.3px;line-height:12.3px;color:#0070c0;width:8.84px;text-align:center;">0</b>
<b style="left:1423.88px;top:808.59px;font-size:12.3px;line-height:12.3px;color:#0070c0;width:8.84px;text-align:center;">5</b>
<b style="left:6.16px;top:890.59px;font-size:12.3px;line-height:12.3px;color:#ff0000;width:15.68px;text-align:center;">10</b>
<b style="left:101.04px;top:890.59px;font-size:12.3px;line-height:12.3px;color:#ff9900;width:38.92px;text-align:center;transform:scaleX(1.0450);transform-origin:center 50%;">Nn300</b>
<b style="left:226.40px;top:870.59px;font-size:12.3px;line-height:12.3px;color:#7030a0;width:139.75px;transform:scaleX(1.0260);transform-origin:left 50%;">Dàn 40 Số: (15 -&gt; 18/04)</b>
<b style="left:226.40px;top:890.59px;font-size:12.3px;line-height:12.3px;color:#7030a0;width:357.66px;transform:scaleX(0.9970);transform-origin:left 50%;">02 03 04 09 31 33 34 35 36 39 41 42 43 44 45 46 49 52 53 54 59</b>
<b style="left:226.40px;top:910.59px;font-size:12.3px;line-height:12.3px;color:#7030a0;width:323.46px;">71 72 74 75 76 79 81 83 84 85 86 89 91 92 93 94 95 96 99</b>
<b style="left:598.14px;top:890.59px;font-size:12.3px;line-height:12.3px;color:#0c1f5f;width:17.72px;text-align:center;transform:scaleX(1.0200);transform-origin:center 50%;">N1</b>
<b style="left:647.14px;top:890.59px;font-size:12.3px;line-height:12.3px;color:#0c1f5f;width:17.72px;text-align:center;transform:scaleX(1.0200);transform-origin:center 50%;">N2</b>
<b style="left:697.14px;top:890.59px;font-size:12.3px;line-height:12.3px;color:#0c1f5f;width:17.72px;text-align:center;transform:scaleX(1.0200);transform-origin:center 50%;">N2</b>
<b style="left:722.14px;top:890.59px;font-size:12.3px;line-height:12.3px;color:#0c1f5f;width:17.72px;text-align:center;transform:scaleX(1.0200);transform-origin:center 50%;">N1</b>
<b style="left:747.14px;top:890.59px;font-size:12.3px;line-height:12.3px;color:#0c1f5f;width:17.72px;text-align:center;transform:scaleX(1.0200);transform-origin:center 50%;">N1</b>
<b style="left:772.14px;top:890.59px;font-size:12.3px;line-height:12.3px;color:#0c1f5f;width:17.72px;text-align:center;transform:scaleX(1.0200);transform-origin:center 50%;">N1</b>
<b style="left:876.24px;top:890.59px;font-size:12.3px;line-height:12.3px;color:#0c1f5f;width:9.51px;text-align:center;transform:scaleX(1.0200);transform-origin:center 50%;">o</b>
<b style="left:897.14px;top:890.59px;font-size:12.3px;line-height:12.3px;color:#0c1f5f;width:17.72px;text-align:center;transform:scaleX(1.0200);transform-origin:center 50%;">N1</b>
<b style="left:922.14px;top:890.59px;font-size:12.3px;line-height:12.3px;color:#0c1f5f;width:17.72px;text-align:center;transform:scaleX(1.0200);transform-origin:center 50%;">N1</b>
<b style="left:1375.58px;top:890.59px;font-size:12.3px;line-height:12.3px;color:#0070c0;width:8.84px;text-align:center;">1</b>
<b style="left:1423.88px;top:890.59px;font-size:12.3px;line-height:12.3px;color:#0070c0;width:8.84px;text-align:center;">8</b>
<b style="left:6.50px;top:972.59px;font-size:12.3px;line-height:12.3px;color:#ff0000;width:15.00px;text-align:center;">11</b>
<b style="left:84.97px;top:972.59px;font-size:12.3px;line-height:12.3px;color:#974706;width:71.05px;text-align:center;transform:scaleX(1.0450);transform-origin:center 50%;">Kemdau123</b>
<b style="left:226.40px;top:952.59px;font-size:12.3px;line-height:12.3px;color:#7030a0;width:139.75px;transform:scaleX(1.0260);transform-origin:left 50%;">Dàn 40 Số: (16 -&gt; 19/04)</b>
<b style="left:226.40px;top:972.59px;font-size:12.3px;line-height:12.3px;color:#7030a0;width:357.66px;transform:scaleX(0.9970);transform-origin:left 50%;">43 04 07 09 17 19 20 24 25 26 31 35 36 40 41 42 45 46 48 52 53</b>
<b style="left:226.40px;top:992.59px;font-size:12.3px;line-height:12.3px;color:#7030a0;width:323.46px;">57 58 59 39 64 34 70 71 61 75 80 84 85 86 95 90 93 74 47</b>
<b style="left:598.14px;top:972.59px;font-size:12.3px;line-height:12.3px;color:#0c1f5f;width:17.72px;text-align:center;transform:scaleX(1.0200);transform-origin:center 50%;">N1</b>
<b style="left:622.14px;top:972.59px;font-size:12.3px;line-height:12.3px;color:#0c1f5f;width:17.72px;text-align:center;transform:scaleX(1.0200);transform-origin:center 50%;">N1</b>
<b style="left:647.14px;top:972.59px;font-size:12.3px;line-height:12.3px;color:#0c1f5f;width:17.72px;text-align:center;transform:scaleX(1.0200);transform-origin:center 50%;">N1</b>
<b style="left:722.14px;top:972.59px;font-size:12.3px;line-height:12.3px;color:#0c1f5f;width:17.72px;text-align:center;transform:scaleX(1.0200);transform-origin:center 50%;">N3</b>
<b style="left:747.14px;top:972.59px;font-size:12.3px;line-height:12.3px;color:#0c1f5f;width:17.72px;text-align:center;transform:scaleX(1.0200);transform-origin:center 50%;">N1</b>
<b style="left:851.24px;top:972.59px;font-size:12.3px;line-height:12.3px;color:#0c1f5f;width:9.51px;text-align:center;transform:scaleX(1.0200);transform-origin:center 50%;">o</b>
<b style="left:922.14px;top:972.59px;font-size:12.3px;line-height:12.3px;color:#0c1f5f;width:17.72px;text-align:center;transform:scaleX(1.0200);transform-origin:center 50%;">N3</b>
<b style="left:947.14px;top:972.59px;font-size:12.3px;line-height:12.3px;color:#0c1f5f;width:17.72px;text-align:center;transform:scaleX(1.0200);transform-origin:center 50%;">N1</b>
<b style="left:1375.58px;top:972.59px;font-size:12.3px;line-height:12.3px;color:#0070c0;width:8.84px;text-align:center;">1</b>
<b style="left:1423.88px;top:972.59px;font-size:12.3px;line-height:12.3px;color:#0070c0;width:8.84px;text-align:center;">7</b>
<b style="left:6.16px;top:1054.59px;font-size:12.3px;line-height:12.3px;color:#ff0000;width:15.68px;text-align:center;">12</b>
<b style="left:91.13px;top:1054.59px;font-size:12.3px;line-height:12.3px;color:#00b0f0;width:58.74px;text-align:center;transform:scaleX(1.0450);transform-origin:center 50%;">Lumia168</b>
<b style="left:598.14px;top:1054.59px;font-size:12.3px;line-height:12.3px;color:#0c1f5f;width:17.72px;text-align:center;transform:scaleX(1.0200);transform-origin:center 50%;">N1</b>
<b style="left:622.14px;top:1054.59px;font-size:12.3px;line-height:12.3px;color:#0c1f5f;width:17.72px;text-align:center;transform:scaleX(1.0200);transform-origin:center 50%;">N1</b>
<b style="left:672.14px;top:1054.59px;font-size:12.3px;line-height:12.3px;color:#0c1f5f;width:17.72px;text-align:center;transform:scaleX(1.0200);transform-origin:center 50%;">N2</b>
<b style="left:697.14px;top:1054.59px;font-size:12.3px;line-height:12.3px;color:#0c1f5f;width:17.72px;text-align:center;transform:scaleX(1.0200);transform-origin:center 50%;">N1</b>
<b style="left:801.24px;top:1054.59px;font-size:12.3px;line-height:12.3px;color:#0c1f5f;width:9.51px;text-align:center;transform:scaleX(1.0200);transform-origin:center 50%;">o</b>
<b style="left:825.56px;top:1054.59px;font-size:12.3px;line-height:12.3px;color:#0c1f5f;width:10.88px;text-align:center;transform:scaleX(1.0200);transform-origin:center 50%;">N</b>
<b style="left:897.14px;top:1054.59px;font-size:12.3px;line-height:12.3px;color:#0c1f5f;width:17.72px;text-align:center;transform:scaleX(1.0200);transform-origin:center 50%;">N3</b>
<b style="left:922.14px;top:1054.59px;font-size:12.3px;line-height:12.3px;color:#0c1f5f;width:17.72px;text-align:center;transform:scaleX(1.0200);transform-origin:center 50%;">N1</b>
<b style="left:947.14px;top:1054.59px;font-size:12.3px;line-height:12.3px;color:#0c1f5f;width:17.72px;text-align:center;transform:scaleX(1.0200);transform-origin:center 50%;">N1</b>
<b style="left:1375.58px;top:1054.59px;font-size:12.3px;line-height:12.3px;color:#0070c0;width:8.84px;text-align:center;">1</b>
<b style="left:1423.88px;top:1054.59px;font-size:12.3px;line-height:12.3px;color:#0070c0;width:8.84px;text-align:center;">7</b>
<b style="left:6.16px;top:1136.59px;font-size:12.3px;line-height:12.3px;color:#ff0000;width:15.68px;text-align:center;">13</b>
<b style="left:82.25px;top:1136.59px;font-size:12.3px;line-height:12.3px;color:#ff9900;width:76.50px;text-align:center;transform:scaleX(1.0450);transform-origin:center 50%;">SieuChuoi35</b>
<b style="left:226.40px;top:1116.59px;font-size:12.3px;line-height:12.3px;color:#7030a0;width:139.75px;transform:scaleX(1.0260);transform-origin:left 50%;">Dàn 40 Số: (16 -&gt; 19/04)</b>
<b style="left:226.40px;top:1136.59px;font-size:12.3px;line-height:12.3px;color:#7030a0;width:356.98px;transform:scaleX(0.9970);transform-origin:left 50%;">00 03 04 09 10 11 13 15 17 18 19 20 21 24 25 26 29 31 32 33 34</b>
<b style="left:226.40px;top:1156.59px;font-size:12.3px;line-height:12.3px;color:#7030a0;width:323.46px;">35 36 37 38 39 40 41 42 43 47 52 53 54 55 61 63 64 70 71</b>
<b style="left:622.14px;top:1136.59px;font-size:12.3px;line-height:12.3px;color:#0c1f5f;width:17.72px;text-align:center;transform:scaleX(1.0200);transform-origin:center 50%;">N2</b>
<b style="left:722.14px;top:1136.59px;font-size:12.3px;line-height:12.3px;color:#0c1f5f;width:17.72px;text-align:center;transform:scaleX(1.0200);transform-origin:center 50%;">N4</b>
<b style="left:747.14px;top:1136.59px;font-size:12.3px;line-height:12.3px;color:#0c1f5f;width:17.72px;text-align:center;transform:scaleX(1.0200);transform-origin:center 50%;">N1</b>
<b style="left:772.14px;top:1136.59px;font-size:12.3px;line-height:12.3px;color:#0c1f5f;width:17.72px;text-align:center;transform:scaleX(1.0200);transform-origin:center 50%;">N1</b>
<b style="left:797.14px;top:1136.59px;font-size:12.3px;line-height:12.3px;color:#0c1f5f;width:17.72px;text-align:center;transform:scaleX(1.0200);transform-origin:center 50%;">N1</b>
<b style="left:847.14px;top:1136.59px;font-size:12.3px;line-height:12.3px;color:#0c1f5f;width:17.72px;text-align:center;transform:scaleX(1.0200);transform-origin:center 50%;">N2</b>
<b style="left:951.24px;top:1136.59px;font-size:12.3px;line-height:12.3px;color:#0c1f5f;width:9.51px;text-align:center;transform:scaleX(1.0200);transform-origin:center 50%;">o</b>
<b style="left:1375.58px;top:1136.59px;font-size:12.3px;line-height:12.3px;color:#0070c0;width:8.84px;text-align:center;">1</b>
<b style="left:1423.88px;top:1136.59px;font-size:12.3px;line-height:12.3px;color:#0070c0;width:8.84px;text-align:center;">6</b>
<b style="left:6.16px;top:1218.59px;font-size:12.3px;line-height:12.3px;color:#ff0000;width:15.68px;text-align:center;">14</b>
<b style="left:96.61px;top:1218.59px;font-size:12.3px;line-height:12.3px;color:#00b0f0;width:47.78px;text-align:center;transform:scaleX(1.0450);transform-origin:center 50%;">Bepbon</b>
<b style="left:622.14px;top:1218.59px;font-size:12.3px;line-height:12.3px;color:#0c1f5f;width:17.72px;text-align:center;transform:scaleX(1.0200);transform-origin:center 50%;">N2</b>
<b style="left:672.14px;top:1218.59px;font-size:12.3px;line-height:12.3px;color:#0c1f5f;width:17.72px;text-align:center;transform:scaleX(1.0200);transform-origin:center 50%;">N2</b>
<b style="left:697.14px;top:1218.59px;font-size:12.3px;line-height:12.3px;color:#0c1f5f;width:17.72px;text-align:center;transform:scaleX(1.0200);transform-origin:center 50%;">N1</b>
<b style="left:722.14px;top:1218.59px;font-size:12.3px;line-height:12.3px;color:#0c1f5f;width:17.72px;text-align:center;transform:scaleX(1.0200);transform-origin:center 50%;">N1</b>
<b style="left:747.14px;top:1218.59px;font-size:12.3px;line-height:12.3px;color:#0c1f5f;width:17.72px;text-align:center;transform:scaleX(1.0200);transform-origin:center 50%;">N1</b>
<b style="left:851.24px;top:1218.59px;font-size:12.3px;line-height:12.3px;color:#0c1f5f;width:9.51px;text-align:center;transform:scaleX(1.0200);transform-origin:center 50%;">o</b>
<b style="left:897.14px;top:1218.59px;font-size:12.3px;line-height:12.3px;color:#0c1f5f;width:17.72px;text-align:center;transform:scaleX(1.0200);transform-origin:center 50%;">N2</b>
<b style="left:925.56px;top:1218.59px;font-size:12.3px;line-height:12.3px;color:#0c1f5f;width:10.88px;text-align:center;transform:scaleX(1.0200);transform-origin:center 50%;">N</b>
<b style="left:950.56px;top:1218.59px;font-size:12.3px;line-height:12.3px;color:#0c1f5f;width:10.88px;text-align:center;transform:scaleX(1.0200);transform-origin:center 50%;">N</b>
<b style="left:1375.58px;top:1218.59px;font-size:12.3px;line-height:12.3px;color:#0070c0;width:8.84px;text-align:center;">1</b>
<b style="left:1423.88px;top:1218.59px;font-size:12.3px;line-height:12.3px;color:#0070c0;width:8.84px;text-align:center;">6</b>
<b style="left:6.16px;top:1300.59px;font-size:12.3px;line-height:12.3px;color:#ff0000;width:15.68px;text-align:center;">15</b>
<b style="left:58.01px;top:1300.59px;font-size:12.3px;line-height:12.3px;color:#00b0f0;width:124.99px;text-align:center;transform:scaleX(1.0450);transform-origin:center 50%;">Nguahoangxuongnui</b>
<b style="left:226.40px;top:1280.59px;font-size:12.3px;line-height:12.3px;color:#7030a0;width:139.75px;transform:scaleX(1.0260);transform-origin:left 50%;">Dàn 40 Số: (15 -&gt; 18/04)</b>
<b style="left:226.40px;top:1300.59px;font-size:12.3px;line-height:12.3px;color:#7030a0;width:357.66px;transform:scaleX(0.9970);transform-origin:left 50%;">20 21 22 23 24 25 26 27 28 29 70 71 72 73 74 75 76 77 78 79 00</b>
<b style="left:226.40px;top:1320.59px;font-size:12.3px;line-height:12.3px;color:#7030a0;width:323.46px;">01 02 03 04 05 06 07 08 09 50 51 52 53 54 55 56 57 58 59</b>
<b style="left:622.14px;top:1300.59px;font-size:12.3px;line-height:12.3px;color:#0c1f5f;width:17.72px;text-align:center;transform:scaleX(1.0200);transform-origin:center 50%;">N2</b>
<b style="left:672.14px;top:1300.59px;font-size:12.3px;line-height:12.3px;color:#0c1f5f;width:17.72px;text-align:center;transform:scaleX(1.0200);transform-origin:center 50%;">N2</b>
<b style="left:722.14px;top:1300.59px;font-size:12.3px;line-height:12.3px;color:#0c1f5f;width:17.72px;text-align:center;transform:scaleX(1.0200);transform-origin:center 50%;">N2</b>
<b style="left:797.14px;top:1300.59px;font-size:12.3px;line-height:12.3px;color:#0c1f5f;width:17.72px;text-align:center;transform:scaleX(1.0200);transform-origin:center 50%;">N3</b>
<b style="left:901.24px;top:1300.59px;font-size:12.3px;line-height:12.3px;color:#0c1f5f;width:9.51px;text-align:center;transform:scaleX(1.0200);transform-origin:center 50%;">o</b>
<b style="left:922.14px;top:1300.59px;font-size:12.3px;line-height:12.3px;color:#0c1f5f;width:17.72px;text-align:center;transform:scaleX(1.0200);transform-origin:center 50%;">N1</b>
<b style="left:1375.58px;top:1300.59px;font-size:12.3px;line-height:12.3px;color:#0070c0;width:8.84px;text-align:center;">1</b>
<b style="left:1423.88px;top:1300.59px;font-size:12.3px;line-height:12.3px;color:#0070c0;width:8.84px;text-align:center;">5</b>
<b style="left:6.16px;top:1382.59px;font-size:12.3px;line-height:12.3px;color:#ff0000;width:15.68px;text-align:center;">16</b>
<b style="left:78.84px;top:1382.59px;font-size:12.3px;line-height:12.3px;color:#00b0f0;width:83.33px;text-align:center;transform:scaleX(1.0450);transform-origin:center 50%;">Binhminh-368</b>
<b style="left:226.40px;top:1362.59px;font-size:12.3px;line-height:12.3px;color:#7030a0;width:139.75px;transform:scaleX(1.0260);transform-origin:left 50%;">Dàn 40 Số: (15 -&gt; 18/04)</b>
<b style="left:226.40px;top:1382.59px;font-size:12.3px;line-height:12.3px;color:#7030a0;width:356.98px;transform:scaleX(0.9970);transform-origin:left 50%;">00 02 05 06 08 11 13 15 16 18 20 22 23 25 26 28 31 32 33 36 50</b>
<b style="left:226.40px;top:1402.59px;font-size:12.3px;line-height:12.3px;color:#7030a0;width:323.46px;">51 53 55 60 61 62 63 68 80 81 82 86 88 90 91 93 95 96 98</b>
<b style="left:598.14px;top:1382.59px;font-size:12.3px;line-height:12.3px;color:#0c1f5f;width:17.72px;text-align:center;transform:scaleX(1.0200);transform-origin:center 50%;">N1</b>
<b style="left:697.14px;top:1382.59px;font-size:12.3px;line-height:12.3px;color:#0c1f5f;width:17.72px;text-align:center;transform:scaleX(1.0200);transform-origin:center 50%;">N4</b>
<b style="left:722.14px;top:1382.59px;font-size:12.3px;line-height:12.3px;color:#0c1f5f;width:17.72px;text-align:center;transform:scaleX(1.0200);transform-origin:center 50%;">N1</b>
<b style="left:772.14px;top:1382.59px;font-size:12.3px;line-height:12.3px;color:#0c1f5f;width:17.72px;text-align:center;transform:scaleX(1.0200);transform-origin:center 50%;">N2</b>
<b style="left:876.24px;top:1382.59px;font-size:12.3px;line-height:12.3px;color:#0c1f5f;width:9.51px;text-align:center;transform:scaleX(1.0200);transform-origin:center 50%;">o</b>
<b style="left:922.14px;top:1382.59px;font-size:12.3px;line-height:12.3px;color:#0c1f5f;width:17.72px;text-align:center;transform:scaleX(1.0200);transform-origin:center 50%;">N2</b>
<b style="left:1375.58px;top:1382.59px;font-size:12.3px;line-height:12.3px;color:#0070c0;width:8.84px;text-align:center;">1</b>
<b style="left:1423.88px;top:1382.59px;font-size:12.3px;line-height:12.3px;color:#0070c0;width:8.84px;text-align:center;">5</b>
<b style="left:6.16px;top:1464.59px;font-size:12.3px;line-height:12.3px;color:#ff0000;width:15.68px;text-align:center;">17</b>
<b style="left:73.72px;top:1464.59px;font-size:12.3px;line-height:12.3px;color:#974706;width:93.57px;text-align:center;transform:scaleX(1.0450);transform-origin:center 50%;">Muanangdoitrai</b>
<b style="left:598.14px;top:1464.59px;font-size:12.3px;line-height:12.3px;color:#0c1f5f;width:17.72px;text-align:center;transform:scaleX(1.0200);transform-origin:center 50%;">N1</b>
<b style="left:647.14px;top:1464.59px;font-size:12.3px;line-height:12.3px;color:#0c1f5f;width:17.72px;text-align:center;transform:scaleX(1.0200);transform-origin:center 50%;">N2</b>
<b style="left:697.14px;top:1464.59px;font-size:12.3px;line-height:12.3px;color:#0c1f5f;width:17.72px;text-align:center;transform:scaleX(1.0200);transform-origin:center 50%;">N2</b>
<b style="left:722.14px;top:1464.59px;font-size:12.3px;line-height:12.3px;color:#0c1f5f;width:17.72px;text-align:center;transform:scaleX(1.0200);transform-origin:center 50%;">N1</b>
<b style="left:826.24px;top:1464.59px;font-size:12.3px;line-height:12.3px;color:#0c1f5f;width:9.51px;text-align:center;transform:scaleX(1.0200);transform-origin:center 50%;">o</b>
<b style="left:922.14px;top:1464.59px;font-size:12.3px;line-height:12.3px;color:#0c1f5f;width:17.72px;text-align:center;transform:scaleX(1.0200);transform-origin:center 50%;">N4</b>
<b style="left:950.56px;top:1464.59px;font-size:12.3px;line-height:12.3px;color:#0c1f5f;width:10.88px;text-align:center;transform:scaleX(1.0200);transform-origin:center 50%;">N</b>
<b style="left:1375.58px;top:1464.59px;font-size:12.3px;line-height:12.3px;color:#0070c0;width:8.84px;text-align:center;">1</b>
<b style="left:1423.88px;top:1464.59px;font-size:12.3px;line-height:12.3px;color:#0070c0;width:8.84px;text-align:center;">5</b>
<b style="left:6.16px;top:1546.59px;font-size:12.3px;line-height:12.3px;color:#ff0000;width:15.68px;text-align:center;">18</b>
<b style="left:84.63px;top:1546.59px;font-size:12.3px;line-height:12.3px;color:#ff9900;width:71.74px;text-align:center;transform:scaleX(1.0450);transform-origin:center 50%;">thulang1111</b>
<b style="left:598.14px;top:1546.59px;font-size:12.3px;line-height:12.3px;color:#0c1f5f;width:17.72px;text-align:center;transform:scaleX(1.0200);transform-origin:center 50%;">N1</b>
<b style="left:701.24px;top:1546.59px;font-size:12.3px;line-height:12.3px;color:#0c1f5f;width:9.51px;text-align:center;transform:scaleX(1.0200);transform-origin:center 50%;">o</b>
<b style="left:772.14px;top:1546.59px;font-size:12.3px;line-height:12.3px;color:#0c1f5f;width:17.72px;text-align:center;transform:scaleX(1.0200);transform-origin:center 50%;">N3</b>
<b style="left:872.14px;top:1546.59px;font-size:12.3px;line-height:12.3px;color:#0c1f5f;width:17.72px;text-align:center;transform:scaleX(1.0200);transform-origin:center 50%;">N4</b>
<b style="left:922.14px;top:1546.59px;font-size:12.3px;line-height:12.3px;color:#0c1f5f;width:17.72px;text-align:center;transform:scaleX(1.0200);transform-origin:center 50%;">N2</b>
<b style="left:947.14px;top:1546.59px;font-size:12.3px;line-height:12.3px;color:#0c1f5f;width:17.72px;text-align:center;transform:scaleX(1.0200);transform-origin:center 50%;">N1</b>
<b style="left:1375.58px;top:1546.59px;font-size:12.3px;line-height:12.3px;color:#0070c0;width:8.84px;text-align:center;">1</b>
<b style="left:1423.88px;top:1546.59px;font-size:12.3px;line-height:12.3px;color:#0070c0;width:8.84px;text-align:center;">5</b>
<b style="left:6.16px;top:1629.59px;font-size:12.3px;line-height:12.3px;color:#ff0000;width:15.68px;text-align:center;">19</b>
<b style="left:77.14px;top:1629.59px;font-size:12.3px;line-height:12.3px;color:#974706;width:86.73px;text-align:center;transform:scaleX(1.0450);transform-origin:center 50%;">Langtudatinh9</b>
<b style="left:672.14px;top:1629.59px;font-size:12.3px;line-height:12.3px;color:#0c1f5f;width:17.72px;text-align:center;transform:scaleX(1.0200);transform-origin:center 50%;">N4</b>
<b style="left:722.14px;top:1629.59px;font-size:12.3px;line-height:12.3px;color:#0c1f5f;width:17.72px;text-align:center;transform:scaleX(1.0200);transform-origin:center 50%;">N2</b>
<b style="left:797.14px;top:1629.59px;font-size:12.3px;line-height:12.3px;color:#0c1f5f;width:17.72px;text-align:center;transform:scaleX(1.0200);transform-origin:center 50%;">N3</b>
<b style="left:901.24px;top:1629.59px;font-size:12.3px;line-height:12.3px;color:#0c1f5f;width:9.51px;text-align:center;transform:scaleX(1.0200);transform-origin:center 50%;">o</b>
<b style="left:925.56px;top:1629.59px;font-size:12.3px;line-height:12.3px;color:#0c1f5f;width:10.88px;text-align:center;transform:scaleX(1.0200);transform-origin:center 50%;">N</b>
<b style="left:947.14px;top:1629.59px;font-size:12.3px;line-height:12.3px;color:#0c1f5f;width:17.72px;text-align:center;transform:scaleX(1.0200);transform-origin:center 50%;">N1</b>
<b style="left:1375.58px;top:1629.59px;font-size:12.3px;line-height:12.3px;color:#0070c0;width:8.84px;text-align:center;">1</b>
<b style="left:1423.88px;top:1629.59px;font-size:12.3px;line-height:12.3px;color:#0070c0;width:8.84px;text-align:center;">4</b>
<svg style="position:absolute;left:5px;top:1px" width="211" height="84" viewBox="5 1 211 84">
<defs>
<linearGradient id="gK" x1="0" y1="1" x2="1" y2="0"><stop offset="0" stop-color="#6e0000"/><stop offset="0.55" stop-color="#e0141c"/><stop offset="1" stop-color="#f0605a"/></linearGradient>
<linearGradient id="gE" x1="0" y1="1" x2="1" y2="0"><stop offset="0" stop-color="#061a55"/><stop offset="0.55" stop-color="#1846b4"/><stop offset="1" stop-color="#6c98e0"/></linearGradient>
<linearGradient id="gT" x1="0" y1="1" x2="1" y2="0"><stop offset="0" stop-color="#7a4400"/><stop offset="0.55" stop-color="#f0a018"/><stop offset="1" stop-color="#f8c878"/></linearGradient>
<linearGradient id="gQ" x1="0" y1="1" x2="1" y2="0"><stop offset="0" stop-color="#053805"/><stop offset="0.55" stop-color="#137a13"/><stop offset="1" stop-color="#5aaa4a"/></linearGradient>
<linearGradient id="gU" x1="0" y1="1" x2="1" y2="0"><stop offset="0" stop-color="#163f7a"/><stop offset="0.55" stop-color="#3a8ad8"/><stop offset="1" stop-color="#8cc0f0"/></linearGradient>
<linearGradient id="gA" x1="0" y1="1" x2="1" y2="0"><stop offset="0" stop-color="#4a1a6a"/><stop offset="0.55" stop-color="#c050d8"/><stop offset="1" stop-color="#f0a0f8"/></linearGradient>
<linearGradient id="g2" x1="0" y1="1" x2="1" y2="0"><stop offset="0" stop-color="#3e2608"/><stop offset="0.5" stop-color="#9a6414"/><stop offset="1" stop-color="#d8b060"/></linearGradient>
</defs>
<rect x="5" y="1" width="211" height="84" fill="#ffffff"/>
<ellipse cx="17.95" cy="40.7" rx="11.95" ry="23.4" fill="url(#gK)" transform="rotate(4 17.95 40.7)"/>
<ellipse cx="37.8" cy="41" rx="12.3" ry="23.5" fill="url(#gE)" stroke="#fff" stroke-width="0.6" transform="rotate(4 37.8 41)"/>
<ellipse cx="58.7" cy="41.3" rx="11.9" ry="23.5" fill="url(#gT)" stroke="#fff" stroke-width="0.6" transform="rotate(4 58.7 41.3)"/>
<ellipse cx="78.5" cy="41.5" rx="11.5" ry="23.6" fill="url(#gQ)" stroke="#fff" stroke-width="0.6" transform="rotate(4 78.5 41.5)"/>
<ellipse cx="98.5" cy="41.7" rx="12.4" ry="23.3" fill="url(#gU)" stroke="#fff" stroke-width="0.6" transform="rotate(4 98.5 41.7)"/>
<ellipse cx="119.2" cy="42.1" rx="12.1" ry="23.1" fill="url(#gA)" stroke="#fff" stroke-width="0.6" transform="rotate(4 119.2 42.1)"/>
<ellipse cx="142.2" cy="42.75" rx="14.7" ry="23.25" fill="url(#g2)" stroke="#fff" stroke-width="0.6" transform="rotate(3 142.2 42.75)"/>
<g fill="#ffffff">
<path d="M10.9 24.8 H15.1 V36.6 L17.8 24.8 H25.3 L20.05 40.9 L25.3 56.3 H19.7 L15.1 44.1 V56.3 H10.9 Z"/>
<path d="M31.85 24.8 H44.1 V31.9 H36.8 V36.6 H42.7 V43.3 H36.8 V49.6 H44.1 V56.3 H31.85 Z"/>
<path d="M52.2 24.8 H65.5 V31 H61.4 V56.1 H56.3 V31 H52.2 Z"/>
<path d="M72.85 27 Q72.85 24.8 75 24.8 H86.9 V54.8 L83.3 61.2 L80.4 56.3 H75 Q72.85 56.3 72.85 54 Z M77.8 31.4 V50 H82.7 V31.4 Z"/>
<path d="M92.8 27.1 H98.1 V51.4 H102.8 V27.1 H107.9 V54.9 Q107.9 57.9 104.9 57.9 H95.8 Q92.8 57.9 92.8 54.9 Z"/>
<path d="M118.1 27 H124.3 L130.4 57.6 H125.4 L124.3 51.8 H117.8 L116.6 57.6 H112 Z M118.9 45.7 H123.1 L121.2 35.4 Z"/>
<path d="M135 30 L138.5 26.6 H149.9 V45.7 H139.9 V51.8 H149.9 V58.3 H135 V41.5 L137 38.8 H144.5 V33.5 H139.9 V36.5 H135 Z"/>
</g>
<path d="M163.5 17.2 H206 L212 23.5 V37.7 H163.5 Z" fill="#ec1c24"/>
<text x="169.6" y="34.7" text-anchor="middle" font-family="Liberation Sans" font-weight="bold" font-style="italic" font-size="17.8" fill="#ffffff" transform="translate(169.6 0) scale(0.52 1) translate(-169.6 0)">F</text><text x="177.6" y="34.7" text-anchor="middle" font-family="Liberation Sans" font-weight="bold" font-style="italic" font-size="17.8" fill="#ffffff" transform="translate(177.6 0) scale(0.52 1) translate(-177.6 0)">O</text><text x="185.8" y="34.7" text-anchor="middle" font-family="Liberation Sans" font-weight="bold" font-style="italic" font-size="17.8" fill="#ffffff" transform="translate(185.8 0) scale(0.52 1) translate(-185.8 0)">R</text><text x="193.8" y="34.7" text-anchor="middle" font-family="Liberation Sans" font-weight="bold" font-style="italic" font-size="17.8" fill="#ffffff" transform="translate(193.8 0) scale(0.52 1) translate(-193.8 0)">U</text><text x="201.6" y="34.7" text-anchor="middle" font-family="Liberation Sans" font-weight="bold" font-style="italic" font-size="17.8" fill="#ffffff" transform="translate(201.6 0) scale(0.52 1) translate(-201.6 0)">M</text>
</svg>
<b style="left:6.20px;top:66.54px;font-size:15.9px;line-height:15.9px;color:#111111;width:274.04px;font-weight:normal;transform:scaleX(0.7565);transform-origin:left 50%;-webkit-text-stroke:0.05px #111;">Trang kết quả xổ số lớn nhất Việt Nam</b>
</body></html>
